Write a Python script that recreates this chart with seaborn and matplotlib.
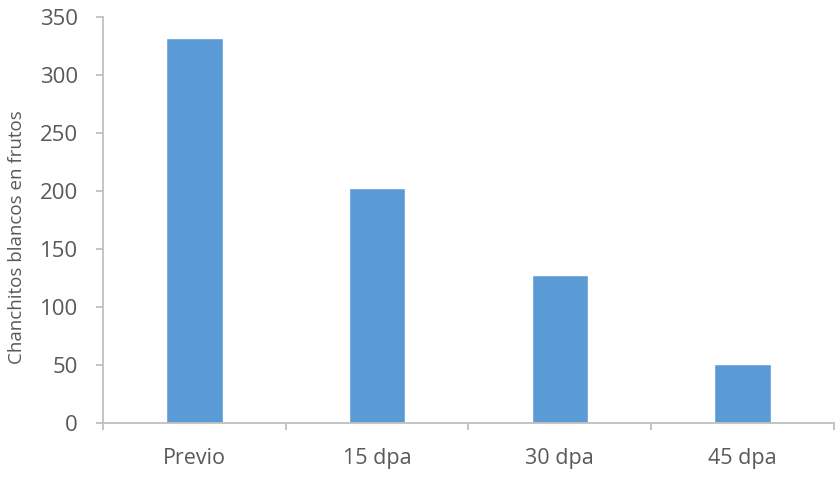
import seaborn as sns
import matplotlib.pyplot as plt
import pandas as pd

categories = ["Previo", "15 dpa", "30 dpa", "45 dpa"]
values = [332, 203, 128, 51]
y_ticks = [0, 50, 100, 150, 200, 250, 300, 350]

df = pd.DataFrame({"cat": categories, "val": values})

sns.set_style("white")
plt.rcParams['font.family'] = ['Open Sans', 'DejaVu Sans']

fig = plt.figure(figsize=(8.39, 4.8), dpi=100)
ax = fig.add_axes([0.1228, 0.11875, 0.994 - 0.1228, 0.9646 - 0.11875])

sns.barplot(data=df, x="cat", y="val", color="#5B9BD5", width=0.31,
            saturation=1, ax=ax)

text_c = "#595959"
grey = "#BFBFBF"

ax.set_xlim(-0.5, len(categories) - 0.5)
ax.set_ylim(0, 350)
ax.set_yticks(y_ticks)
ax.set_yticklabels([str(t) for t in y_ticks], fontsize=16, color=text_c)

# category boundary ticks (major, no labels) and labels at centers (minor)
ax.set_xticks([i - 0.5 for i in range(len(categories) + 1)])
ax.set_xticklabels([])
ax.set_xticks(range(len(categories)), minor=True)
ax.set_xticklabels(categories, minor=True, fontsize=15.5, color=text_c)
ax.tick_params(axis="x", which="major", bottom=True, length=5, width=1.3,
               color=grey, direction="out")
ax.tick_params(axis="x", which="minor", bottom=True, length=0, pad=18)
ax.tick_params(axis="y", left=True, length=5, width=1.3, color=grey,
               direction="out", pad=13)

ax.set_xlabel("")
ax.set_ylabel("Chanchitos blancos en frutos", fontsize=13.5, color=text_c)
ax.yaxis.set_label_coords(-0.105, 0.457)

for s in ["top", "right"]:
    ax.spines[s].set_visible(False)
for s in ["left", "bottom"]:
    ax.spines[s].set_color(grey)
    ax.spines[s].set_linewidth(1.3)

plt.savefig("out.png", dpi=100)
